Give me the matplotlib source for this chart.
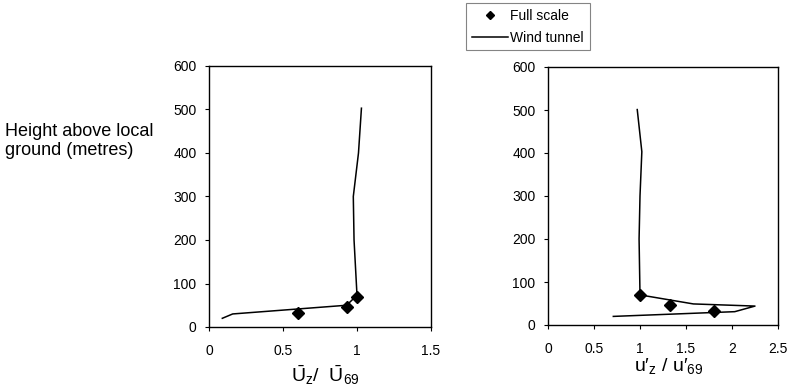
import matplotlib.pyplot as plt

plt.rcParams['font.family'] = ['Liberation Sans', 'DejaVu Sans']
plt.rcParams['mathtext.fontset'] = 'custom'
plt.rcParams['mathtext.rm'] = 'Liberation Sans'
plt.rcParams['mathtext.it'] = 'Liberation Sans'

# Full scale measurements
fs_height = [33, 47, 70]
fs_mean = [0.60, 0.93, 1.00]
fs_turb = [1.80, 1.33, 1.00]

# Wind tunnel profiles
wt_mean_height = [20, 30, 50, 73, 200, 300, 400, 503]
wt_mean = [0.09, 0.16, 0.93, 1.00, 0.98, 0.975, 1.01, 1.03]
wt_turb_height = [20, 31, 44, 49, 70, 200, 300, 403, 501]
wt_turb = [0.71, 2.03, 2.25, 1.58, 1.00, 0.99, 1.00, 1.02, 0.97]

fig = plt.figure(figsize=(7.92, 3.91), dpi=100)
ax1 = fig.add_axes([209/792, 1 - 327/391, 222/792, 261/391])
ax2 = fig.add_axes([548/792, 1 - 325/391, 230/792, 258/391])

ax1.plot(wt_mean, wt_mean_height, color='black', lw=1.1)
ax1.plot(fs_mean, fs_height, 'D', color='black', ms=6)
ax1.set_xlim(0, 1.5)
ax1.set_xticks([0, 0.5, 1, 1.5])
ax1.set_xticklabels(['0', '0.5', '1', '1.5'])

ax2.plot(fs_turb, fs_height, 'D', color='black', ms=6, label='Full scale')
ax2.plot(wt_turb, wt_turb_height, color='black', lw=1.1, label='Wind tunnel')
ax2.set_xlim(0, 2.5)
ax2.set_xticks([0, 0.5, 1, 1.5, 2, 2.5])
ax2.set_xticklabels(['0', '0.5', '1', '1.5', '2', '2.5'])

for ax in (ax1, ax2):
    ax.set_ylim(0, 600)
    ax.set_yticks(range(0, 601, 100))
    ax.tick_params(labelsize=10, length=3, width=0.8, direction='out', pad=6)
    ax.tick_params(axis='x', pad=9)
    for s in ax.spines.values():
        s.set_linewidth(1.0)

fig.text(325/792, 1 - 375/391, r'$\bar{\mathrm{U}}_\mathrm{z}/\ \ \bar{\mathrm{U}}_\mathrm{69}$',
         fontsize=14, ha='center', va='center')
fig.text(669/792, 1 - 366/391, 'u\u2032$_\\mathrm{z}$ / u\u2032$_\\mathrm{69}$',
         fontsize=14, ha='center', va='center')

fig.text(5/792, 1 - 141/391, 'Height above local\nground (metres)', fontsize=13,
         ha='left', va='center', linespacing=1.15)

leg = fig.legend(loc='upper left', bbox_to_anchor=(466/792, 1 - 3/391), fontsize=10,
                 frameon=True, fancybox=False, edgecolor='#666666', handlelength=2.6,
                 handletextpad=0.2, borderpad=0.4, labelspacing=0.6, borderaxespad=0,
                 markerscale=0.75)
leg.get_frame().set_linewidth(0.8)

fig.savefig('out.png', dpi=100)
